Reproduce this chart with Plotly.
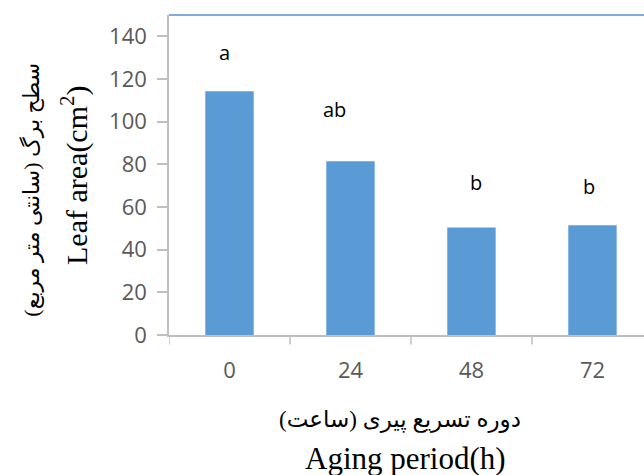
import plotly.graph_objects as go

categories = ["0", "24", "48", "72"]
leaf_area = [114.2, 81.5, 50.4, 51.4]
letters = ["a", "ab", "b", "b"]
letter_y = [132.5, 105.5, 71.5, 69.5]
letter_dx = [-0.04, -0.13, 0.04, -0.03]
y_ticks = [0, 20, 40, 60, 80, 100, 120, 140]

bar_color = "#5B9BD5"
axis_gray = "#BFBFBF"
tick_gray = "#595959"

fig = go.Figure()
fig.add_trace(go.Bar(
    x=list(range(len(categories))),
    y=leaf_area,
    marker=dict(color=bar_color, line=dict(width=0)),
    width=0.4,
    hoverinfo="skip",
))

for i, (t, yv, dx) in enumerate(zip(letters, letter_y, letter_dx)):
    fig.add_annotation(x=i + dx, y=yv, text=t, showarrow=False,
                       xref="x", yref="y", xanchor="center", yanchor="middle",
                       font=dict(family="Open Sans, Liberation Sans", size=20, color="#000000"))

serif = "Liberation Serif, DejaVu Sans"
# y-axis titles
fig.add_annotation(xref="paper", yref="paper", x=-0.29, y=0.455,
                   xanchor="center", yanchor="middle",
                   text="سطح برگ (سانتی متر مربع)", textangle=-90,
                   showarrow=False, font=dict(family=serif, size=22, color="#000000"))
fig.add_annotation(xref="paper", yref="paper", x=-0.2, y=0.5,
                   xanchor="center", yanchor="middle",
                   text="Leaf area(cm<sup>2</sup>)", textangle=-90,
                   showarrow=False, font=dict(family=serif, size=30, color="#000000"))
# x-axis titles
fig.add_annotation(xref="paper", yref="paper", x=0.486, y=-0.266,
                   xanchor="center", yanchor="middle",
                   text="دوره تسریع پیری (ساعت)",
                   showarrow=False, font=dict(family=serif, size=23, color="#000000"))
fig.add_annotation(xref="paper", yref="paper", x=0.497, y=-0.385,
                   xanchor="center", yanchor="middle",
                   text="Aging period(h)",
                   showarrow=False, font=dict(family=serif, size=31, color="#000000"))

# top border line
fig.add_shape(type="line", xref="paper", yref="paper", x0=0, x1=1.02, y0=1, y1=1,
              line=dict(color="#7FAEDC", width=2))

fig.update_layout(
    width=644, height=475,
    margin=dict(l=169, r=0, t=15, b=140),
    plot_bgcolor="white", paper_bgcolor="white",
    showlegend=False,
    bargap=0.6,
    xaxis=dict(
        range=[-0.5, 3.426],
        tickmode="array",
        tickvals=list(range(len(categories))),
        ticktext=categories,
        showgrid=False, zeroline=False,
        showline=True, linecolor=axis_gray, linewidth=1.5,
        ticks="",
        tickfont=dict(family="Open Sans, Liberation Sans", size=22, color=tick_gray),
        ticklabelstandoff=15,
    ),
    yaxis=dict(
        range=[0, 150],
        tickmode="array",
        tickvals=y_ticks,
        showgrid=False, zeroline=False,
        showline=True, linecolor=axis_gray, linewidth=1.5,
        ticks="outside", ticklen=10, tickcolor=axis_gray, tickwidth=1.5,
        tickfont=dict(family="Open Sans, Liberation Sans", size=22, color=tick_gray),
        ticklabelstandoff=6,
    ),
)

# boundary tick marks on x axis
for b in [-0.5, 0.5, 1.5, 2.5]:
    fig.add_shape(type="line", xref="x", yref="paper", x0=b, x1=b, y0=0, y1=-0.03,
                  line=dict(color=axis_gray, width=1.5))

fig.write_html("out.html")
